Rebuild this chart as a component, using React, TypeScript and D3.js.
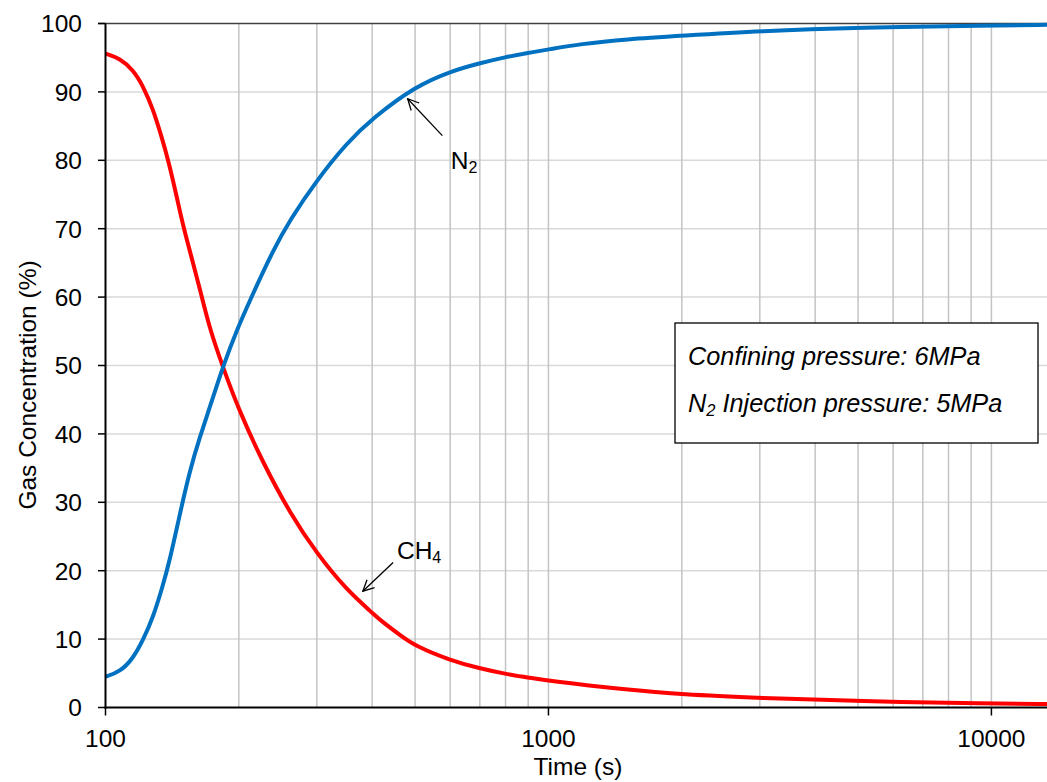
import * as d3 from "d3";
import React from "react";

// time (s) and gas concentration (%)
const ch4Time = [100, 107.8, 115.5, 121.7, 128.2, 133.9, 138.6, 144.8, 149.8, 157.8, 164.9, 172.2, 184.5, 200, 227, 261, 300, 350, 401, 416.6, 462, 500, 600, 700, 800, 900, 1000, 1500, 2000, 3000, 5000, 10000, 13350];
const ch4Conc = [95.6, 94.9, 93.2, 90.8, 87.4, 83.4, 80.0, 74.7, 70.3, 64.9, 60.1, 55.2, 49.6, 43.5, 35.7, 28.4, 22.5, 17.2, 13.8, 12.8, 10.6, 9.0, 6.9, 5.7, 4.9, 4.4, 3.9, 2.6, 1.9, 1.4, 0.9, 0.6, 0.5];

const n2Time = [100, 107.8, 115.5, 121.7, 128.2, 133.9, 139.8, 147.3, 155.1, 163.4, 172.2, 184.5, 197.8, 215.6, 239.2, 260.9, 300, 350, 400, 500, 600, 700, 800, 900, 1000, 1178, 1500, 2000, 3000, 5000, 10000, 13350];
const n2Conc = [4.5, 5.2, 7.2, 9.9, 13.3, 17.2, 21.6, 28.4, 34.7, 39.6, 44.0, 50.0, 55.2, 60.6, 66.9, 71.3, 77.1, 82.5, 86.1, 90.8, 93.0, 94.2, 95.1, 95.7, 96.2, 97.0, 97.7, 98.2, 98.9, 99.4, 99.7, 99.8];

const xTicks = [100, 1000, 10000];
const xGrid = [200, 300, 400, 500, 600, 700, 800, 900, 1000, 2000, 3000, 4000, 5000, 6000, 7000, 8000, 9000, 10000];
const yTicks = [0, 10, 20, 30, 40, 50, 60, 70, 80, 90, 100];

const width = 1047;
const height = 782;
const font = "Arial, 'Liberation Sans', sans-serif";

export default function App() {
  const x = d3.scaleLog().domain([100, 13350]).range([105.5, 1047]);
  const y = d3.scaleLinear().domain([0, 100]).range([707.5, 23.5]);

  const line = d3
    .line<[number, number]>()
    .x((d) => x(d[0]))
    .y((d) => y(d[1]))
    .curve(d3.curveBasis);

  const ch4 = ch4Time.map((t, i) => [t, ch4Conc[i]] as [number, number]);
  const n2 = n2Time.map((t, i) => [t, n2Conc[i]] as [number, number]);

  return (
    <svg
      width={width}
      height={height}
      style={{ position: "absolute", left: 0, top: 0, background: "#fff" }}
      fontFamily={font}
    >
      <defs>
        <marker
          id="arr"
          markerUnits="userSpaceOnUse"
          markerWidth={14}
          markerHeight={14}
          viewBox="0 0 14 14"
          refX={13}
          refY={7}
          orient="auto"
        >
          <path d="M2,1.5 L13,7 L2,12.5" fill="none" stroke="#000" strokeWidth={1.3} />
        </marker>
      </defs>

      {/* grid */}
      {yTicks.slice(1, -1).map((v) => (
        <line key={"hy" + v} x1={x(100)} x2={width} y1={y(v)} y2={y(v)} stroke="#d9d9d9" strokeWidth={1.5} />
      ))}
      {xGrid.map((v) => (
        <line key={"gx" + v} x1={x(v)} x2={x(v)} y1={y(100)} y2={y(0)} stroke="#c4c4c4" strokeWidth={1.5} />
      ))}
      <line x1={98} x2={width} y1={y(100)} y2={y(100)} stroke="#404040" strokeWidth={1.5} />

      {/* series */}
      <path d={line(ch4) ?? ""} fill="none" stroke="#ff0000" strokeWidth={4} />
      <path d={line(n2) ?? ""} fill="none" stroke="#0070c0" strokeWidth={4} />

      {/* axes */}
      <line x1={x(100)} x2={x(100)} y1={y(100)} y2={y(0) + 1} stroke="#000" strokeWidth={2} />
      <line x1={x(100) - 1} x2={width} y1={y(0)} y2={y(0)} stroke="#000" strokeWidth={2} />
      {yTicks.map((v) => (
        <g key={"yt" + v}>
          <line x1={98} x2={x(100)} y1={y(v)} y2={y(v)} stroke="#000" strokeWidth={1.5} />
          <text x={82} y={y(v)} dy="0.36em" textAnchor="end" fontSize={24.5} fill="#000">
            {v}
          </text>
        </g>
      ))}
      {xTicks.map((v) => (
        <g key={"xt" + v}>
          <line x1={x(v)} x2={x(v)} y1={y(0)} y2={y(0) + 8} stroke="#000" strokeWidth={1.5} />
          <text x={x(v)} y={747} textAnchor="middle" fontSize={24.5} fill="#000">
            {v}
          </text>
        </g>
      ))}
      <text x={578} y={775} textAnchor="middle" fontSize={24.5} fill="#000">
        Time (s)
      </text>
      <text transform="translate(36,385) rotate(-90)" textAnchor="middle" fontSize={24.5} fill="#000">
        Gas Concentration (%)
      </text>

      {/* annotations */}
      <line x1={x(576)} y1={y(83.6)} x2={x(481)} y2={y(89.0)} stroke="#000" strokeWidth={1.3} markerEnd="url(#arr)" />
      <text x={x(602)} y={y(78.7)} fontSize={24.5} fill="#000">
        N<tspan fontSize={16} dy={4}>2</tspan>
      </text>
      <line x1={x(446)} y1={y(21.2)} x2={x(381)} y2={y(17.0)} stroke="#000" strokeWidth={1.3} markerEnd="url(#arr)" />
      <text x={x(455)} y={y(21.7)} fontSize={24.5} fill="#000">
        CH<tspan fontSize={16} dy={4}>4</tspan>
      </text>

      {/* condition box */}
      <rect x={675} y={323} width={363} height={120} fill="#fff" stroke="#000" strokeWidth={1.3} />
      <text x={688} y={365} fontSize={25.3} fontStyle="italic" fill="#000">
        Confining pressure: 6MPa
      </text>
      <text x={688} y={412} fontSize={25.3} fontStyle="italic" fill="#000">
        N<tspan fontSize={16.5} dy={4}>2</tspan>
        <tspan dy={-4}> Injection pressure: 5MPa</tspan>
      </text>
    </svg>
  );
}
